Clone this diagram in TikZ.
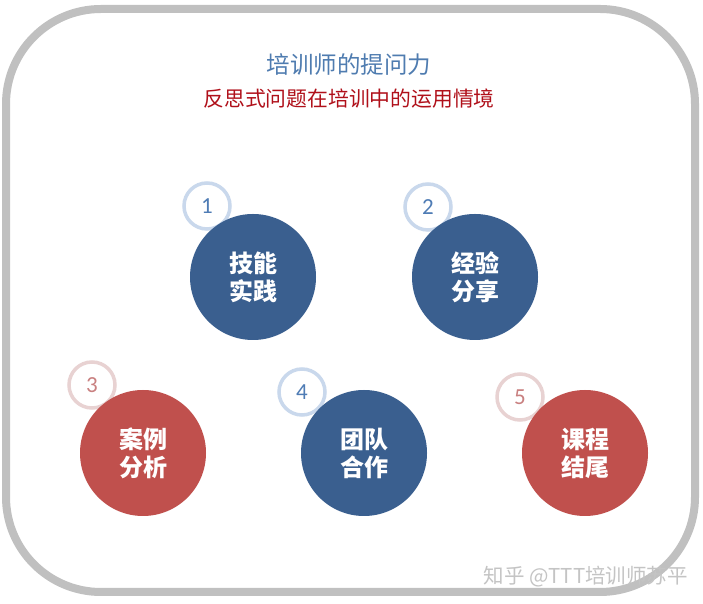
\documentclass[tikz,border=0pt]{standalone}
\usepackage{fontspec}
\setmainfont{Carlito}
\newfontfamily\cjk{Noto Sans CJK SC}
\newfontfamily\cjkb{Noto Sans CJK SC Black}
\definecolor{framegray}{HTML}{C0C0C0}
\definecolor{bigblue}{HTML}{3A5F8F}
\definecolor{bigred}{HTML}{C0504D}
\definecolor{titleblue}{HTML}{4F7CB0}
\definecolor{subred}{HTML}{B0101A}
\definecolor{ringblue}{HTML}{C9D8EC}
\definecolor{ringred}{HTML}{E8D2D2}
\definecolor{numblue}{HTML}{4F7CB5}
\definecolor{numred}{HTML}{C98080}
\definecolor{wmgray}{HTML}{C4C4C4}
\tikzset{
  bigc/.style={circle, minimum size=126pt, inner sep=0pt, text=white, align=center,
    font=\cjkb\fontsize{24}{28}\selectfont},
  bluec/.style={bigc, fill=bigblue},
  redc/.style={bigc, fill=bigred},
  ringc/.style={circle, minimum size=46pt, inner sep=0pt, line width=3.5pt, fill=white,
    font=\fontsize{23}{23}\selectfont},
  ringb/.style={ringc, draw=ringblue, text=numblue},
  ringr/.style={ringc, draw=ringred, text=numred},
}
\begin{document}
\begin{tikzpicture}[x=1pt,y=1pt]
\useasboundingbox (0,0) rectangle (703,604);
\fill[white] (0,0) rectangle (703,604);
\draw[framegray, line width=8pt, rounded corners=95pt] (6,12) rectangle (695,595);
\node[font=\cjk\fontsize{23.5}{23.5}\selectfont, text=titleblue] (title) at (349,539) {培训师的提问力};
\node[font=\cjk\fontsize{20.8}{20.8}\selectfont, text=subred] (sub) at (349,505) {反思式问题在培训中的运用情境};
% rings first so big circles overlap them
\node[ringb] (n1) at (207,398) {1};
\node[ringb] (n2) at (428,397) {2};
\node[ringr] (n3) at (92,219) {3};
\node[ringb] (n4) at (302,212) {4};
\node[ringr] (n5) at (520,207) {5};
\node[bluec] (c1) at (253,327) {技能\\实践};
\node[bluec] (c2) at (475,327) {经验\\分享};
\node[redc] (c3) at (143,151) {案例\\分析};
\node[bluec] (c4) at (364,151) {团队\\合作};
\node[redc] (c5) at (585,151) {课程\\结尾};
\node[font=\cjk\fontsize{20.5}{20.5}\selectfont, text=wmgray, anchor=west] (wm) at (480,27) {知乎 @TTT培训师苏平};
\end{tikzpicture}
\end{document}
